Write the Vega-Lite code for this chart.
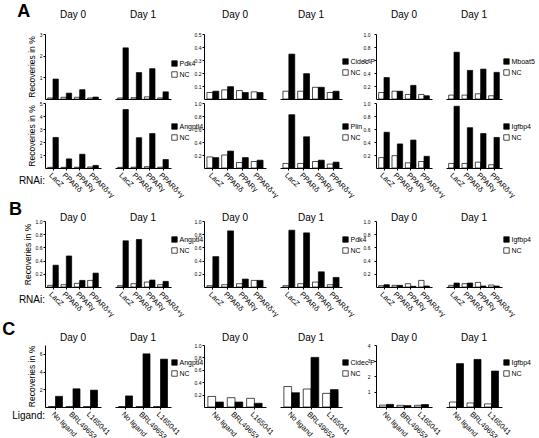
{
"$schema": "https://vega.github.io/schema/vega-lite/v6.json",
"padding": {"left": 2, "top": 2, "right": 0, "bottom": 0},
"config": {
 "font": "Liberation Sans",
 "view": {"stroke": null},
 "axis": {"grid": false, "domainColor": "black", "tickColor": "black", "labelColor": "black", "titleColor": "black", "tickSize": 2},
 "axisY": {"labelFontSize": 5, "labelPadding": 1, "titleFontSize": 8.5, "titleFontWeight": "normal", "titlePadding": 3},
 "axisX": {"labelAngle": 45, "labelFontSize": 7.5, "labelPadding": 1},
 "legend": {"orient": "none", "symbolType": "square", "symbolSize": 30, "symbolStrokeColor": "black", "symbolStrokeWidth": 0.8, "labelFontSize": 7, "labelColor": "black", "rowPadding": 2, "labelOffset": 1.5, "padding": 0},
 "header": {"labelFontSize": 10, "labelColor": "black", "titleColor": "black"},
 "bar": {"stroke": "black", "strokeWidth": 0.7},
 "scale": {"bandPaddingInner": 0.3, "bandPaddingOuter": 0.2},
 "title": {"fontSize": 18, "fontWeight": "bold", "anchor": "start", "frame": "bounds", "color": "black"}
},
"datasets": {
"a1c1": [
{"day":"Day 0","rnai":"LacZ","series":"NC","value":0.05},{"day":"Day 0","rnai":"LacZ","series":"Pdk4","value":0.92},
{"day":"Day 0","rnai":"PPARδ","series":"NC","value":0.08},{"day":"Day 0","rnai":"PPARδ","series":"Pdk4","value":0.27},
{"day":"Day 0","rnai":"PPARγ","series":"NC","value":0.08},{"day":"Day 0","rnai":"PPARγ","series":"Pdk4","value":0.43},
{"day":"Day 0","rnai":"PPARδ+γ","series":"NC","value":0.05},{"day":"Day 0","rnai":"PPARδ+γ","series":"Pdk4","value":0.09},
{"day":"Day 1","rnai":"LacZ","series":"NC","value":0.05},{"day":"Day 1","rnai":"LacZ","series":"Pdk4","value":2.36},
{"day":"Day 1","rnai":"PPARδ","series":"NC","value":0.06},{"day":"Day 1","rnai":"PPARδ","series":"Pdk4","value":1.22},
{"day":"Day 1","rnai":"PPARγ","series":"NC","value":0.10},{"day":"Day 1","rnai":"PPARγ","series":"Pdk4","value":1.40},
{"day":"Day 1","rnai":"PPARδ+γ","series":"NC","value":0.05},{"day":"Day 1","rnai":"PPARδ+γ","series":"Pdk4","value":0.33}],
"a1c2": [
{"day":"Day 0","rnai":"LacZ","series":"NC","value":0.05},{"day":"Day 0","rnai":"LacZ","series":"Cidec P","value":0.06},
{"day":"Day 0","rnai":"PPARδ","series":"NC","value":0.07},{"day":"Day 0","rnai":"PPARδ","series":"Cidec P","value":0.095},
{"day":"Day 0","rnai":"PPARγ","series":"NC","value":0.065},{"day":"Day 0","rnai":"PPARγ","series":"Cidec P","value":0.05},
{"day":"Day 0","rnai":"PPARδ+γ","series":"NC","value":0.055},{"day":"Day 0","rnai":"PPARδ+γ","series":"Cidec P","value":0.05},
{"day":"Day 1","rnai":"LacZ","series":"NC","value":0.06},{"day":"Day 1","rnai":"LacZ","series":"Cidec P","value":0.345},
{"day":"Day 1","rnai":"PPARδ","series":"NC","value":0.06},{"day":"Day 1","rnai":"PPARδ","series":"Cidec P","value":0.195},
{"day":"Day 1","rnai":"PPARγ","series":"NC","value":0.09},{"day":"Day 1","rnai":"PPARγ","series":"Cidec P","value":0.09},
{"day":"Day 1","rnai":"PPARδ+γ","series":"NC","value":0.05},{"day":"Day 1","rnai":"PPARδ+γ","series":"Cidec P","value":0.06}],
"a1c3": [
{"day":"Day 0","rnai":"LacZ","series":"NC","value":0.10},{"day":"Day 0","rnai":"LacZ","series":"Mboat5","value":0.33},
{"day":"Day 0","rnai":"PPARδ","series":"NC","value":0.12},{"day":"Day 0","rnai":"PPARδ","series":"Mboat5","value":0.12},
{"day":"Day 0","rnai":"PPARγ","series":"NC","value":0.07},{"day":"Day 0","rnai":"PPARγ","series":"Mboat5","value":0.21},
{"day":"Day 0","rnai":"PPARδ+γ","series":"NC","value":0.07},{"day":"Day 0","rnai":"PPARδ+γ","series":"Mboat5","value":0.05},
{"day":"Day 1","rnai":"LacZ","series":"NC","value":0.06},{"day":"Day 1","rnai":"LacZ","series":"Mboat5","value":0.72},
{"day":"Day 1","rnai":"PPARδ","series":"NC","value":0.06},{"day":"Day 1","rnai":"PPARδ","series":"Mboat5","value":0.44},
{"day":"Day 1","rnai":"PPARγ","series":"NC","value":0.08},{"day":"Day 1","rnai":"PPARγ","series":"Mboat5","value":0.46},
{"day":"Day 1","rnai":"PPARδ+γ","series":"NC","value":0.05},{"day":"Day 1","rnai":"PPARδ+γ","series":"Mboat5","value":0.41}],
"a2c1": [
{"day":"Day 0","rnai":"LacZ","series":"NC","value":0.05},{"day":"Day 0","rnai":"LacZ","series":"Angptl4","value":2.35},
{"day":"Day 0","rnai":"PPARδ","series":"NC","value":0.05},{"day":"Day 0","rnai":"PPARδ","series":"Angptl4","value":0.70},
{"day":"Day 0","rnai":"PPARγ","series":"NC","value":0.06},{"day":"Day 0","rnai":"PPARγ","series":"Angptl4","value":1.06},
{"day":"Day 0","rnai":"PPARδ+γ","series":"NC","value":0.08},{"day":"Day 0","rnai":"PPARδ+γ","series":"Angptl4","value":0.20},
{"day":"Day 1","rnai":"LacZ","series":"NC","value":0.05},{"day":"Day 1","rnai":"LacZ","series":"Angptl4","value":4.50},
{"day":"Day 1","rnai":"PPARδ","series":"NC","value":0.06},{"day":"Day 1","rnai":"PPARδ","series":"Angptl4","value":2.33},
{"day":"Day 1","rnai":"PPARγ","series":"NC","value":0.10},{"day":"Day 1","rnai":"PPARγ","series":"Angptl4","value":2.65},
{"day":"Day 1","rnai":"PPARδ+γ","series":"NC","value":0.06},{"day":"Day 1","rnai":"PPARδ+γ","series":"Angptl4","value":0.65}],
"a2c2": [
{"day":"Day 0","rnai":"LacZ","series":"NC","value":0.17},{"day":"Day 0","rnai":"LacZ","series":"Plin","value":0.16},
{"day":"Day 0","rnai":"PPARδ","series":"NC","value":0.20},{"day":"Day 0","rnai":"PPARδ","series":"Plin","value":0.26},
{"day":"Day 0","rnai":"PPARγ","series":"NC","value":0.085},{"day":"Day 0","rnai":"PPARγ","series":"Plin","value":0.16},
{"day":"Day 0","rnai":"PPARδ+γ","series":"NC","value":0.10},{"day":"Day 0","rnai":"PPARδ+γ","series":"Plin","value":0.12},
{"day":"Day 1","rnai":"LacZ","series":"NC","value":0.07},{"day":"Day 1","rnai":"LacZ","series":"Plin","value":0.82},
{"day":"Day 1","rnai":"PPARδ","series":"NC","value":0.07},{"day":"Day 1","rnai":"PPARδ","series":"Plin","value":0.48},
{"day":"Day 1","rnai":"PPARγ","series":"NC","value":0.10},{"day":"Day 1","rnai":"PPARγ","series":"Plin","value":0.12},
{"day":"Day 1","rnai":"PPARδ+γ","series":"NC","value":0.06},{"day":"Day 1","rnai":"PPARδ+γ","series":"Plin","value":0.09}],
"a2c3": [
{"day":"Day 0","rnai":"LacZ","series":"NC","value":0.16},{"day":"Day 0","rnai":"LacZ","series":"Igfbp4","value":0.55},
{"day":"Day 0","rnai":"PPARδ","series":"NC","value":0.19},{"day":"Day 0","rnai":"PPARδ","series":"Igfbp4","value":0.37},
{"day":"Day 0","rnai":"PPARγ","series":"NC","value":0.08},{"day":"Day 0","rnai":"PPARγ","series":"Igfbp4","value":0.43},
{"day":"Day 0","rnai":"PPARδ+γ","series":"NC","value":0.10},{"day":"Day 0","rnai":"PPARδ+γ","series":"Igfbp4","value":0.18},
{"day":"Day 1","rnai":"LacZ","series":"NC","value":0.07},{"day":"Day 1","rnai":"LacZ","series":"Igfbp4","value":0.95},
{"day":"Day 1","rnai":"PPARδ","series":"NC","value":0.07},{"day":"Day 1","rnai":"PPARδ","series":"Igfbp4","value":0.62},
{"day":"Day 1","rnai":"PPARγ","series":"NC","value":0.09},{"day":"Day 1","rnai":"PPARγ","series":"Igfbp4","value":0.53},
{"day":"Day 1","rnai":"PPARδ+γ","series":"NC","value":0.05},{"day":"Day 1","rnai":"PPARδ+γ","series":"Igfbp4","value":0.47}],
"bc1": [
{"day":"Day 0","rnai":"LacZ","series":"NC","value":0.025},{"day":"Day 0","rnai":"LacZ","series":"Angptl4","value":0.33},
{"day":"Day 0","rnai":"PPARδ","series":"NC","value":0.035},{"day":"Day 0","rnai":"PPARδ","series":"Angptl4","value":0.47},
{"day":"Day 0","rnai":"PPARγ","series":"NC","value":0.055},{"day":"Day 0","rnai":"PPARγ","series":"Angptl4","value":0.10},
{"day":"Day 0","rnai":"PPARδ+γ","series":"NC","value":0.10},{"day":"Day 0","rnai":"PPARδ+γ","series":"Angptl4","value":0.21},
{"day":"Day 1","rnai":"LacZ","series":"NC","value":0.02},{"day":"Day 1","rnai":"LacZ","series":"Angptl4","value":0.70},
{"day":"Day 1","rnai":"PPARδ","series":"NC","value":0.05},{"day":"Day 1","rnai":"PPARδ","series":"Angptl4","value":0.72},
{"day":"Day 1","rnai":"PPARγ","series":"NC","value":0.075},{"day":"Day 1","rnai":"PPARγ","series":"Angptl4","value":0.105},
{"day":"Day 1","rnai":"PPARδ+γ","series":"NC","value":0.035},{"day":"Day 1","rnai":"PPARδ+γ","series":"Angptl4","value":0.085}],
"bc2": [
{"day":"Day 0","rnai":"LacZ","series":"NC","value":0.02},{"day":"Day 0","rnai":"LacZ","series":"Pdk4","value":0.46},
{"day":"Day 0","rnai":"PPARδ","series":"NC","value":0.035},{"day":"Day 0","rnai":"PPARδ","series":"Pdk4","value":0.85},
{"day":"Day 0","rnai":"PPARγ","series":"NC","value":0.05},{"day":"Day 0","rnai":"PPARγ","series":"Pdk4","value":0.12},
{"day":"Day 0","rnai":"PPARδ+γ","series":"NC","value":0.10},{"day":"Day 0","rnai":"PPARδ+γ","series":"Pdk4","value":0.10},
{"day":"Day 1","rnai":"LacZ","series":"NC","value":0.02},{"day":"Day 1","rnai":"LacZ","series":"Pdk4","value":0.86},
{"day":"Day 1","rnai":"PPARδ","series":"NC","value":0.05},{"day":"Day 1","rnai":"PPARδ","series":"Pdk4","value":0.82},
{"day":"Day 1","rnai":"PPARγ","series":"NC","value":0.075},{"day":"Day 1","rnai":"PPARγ","series":"Pdk4","value":0.23},
{"day":"Day 1","rnai":"PPARδ+γ","series":"NC","value":0.035},{"day":"Day 1","rnai":"PPARδ+γ","series":"Pdk4","value":0.145}],
"bc3": [
{"day":"Day 0","rnai":"LacZ","series":"NC","value":0.02},{"day":"Day 0","rnai":"LacZ","series":"Igfbp4","value":0.035},
{"day":"Day 0","rnai":"PPARδ","series":"NC","value":0.025},{"day":"Day 0","rnai":"PPARδ","series":"Igfbp4","value":0.025},
{"day":"Day 0","rnai":"PPARγ","series":"NC","value":0.05},{"day":"Day 0","rnai":"PPARγ","series":"Igfbp4","value":0.01},
{"day":"Day 0","rnai":"PPARδ+γ","series":"NC","value":0.10},{"day":"Day 0","rnai":"PPARδ+γ","series":"Igfbp4","value":0.015},
{"day":"Day 1","rnai":"LacZ","series":"NC","value":0.025},{"day":"Day 1","rnai":"LacZ","series":"Igfbp4","value":0.06},
{"day":"Day 1","rnai":"PPARδ","series":"NC","value":0.05},{"day":"Day 1","rnai":"PPARδ","series":"Igfbp4","value":0.06},
{"day":"Day 1","rnai":"PPARγ","series":"NC","value":0.07},{"day":"Day 1","rnai":"PPARγ","series":"Igfbp4","value":0.015},
{"day":"Day 1","rnai":"PPARδ+γ","series":"NC","value":0.03},{"day":"Day 1","rnai":"PPARδ+γ","series":"Igfbp4","value":0.015}],
"cc1": [
{"day":"Day 0","ligand":"No ligand","series":"NC","value":0.05},{"day":"Day 0","ligand":"No ligand","series":"Angptl4","value":1.2},
{"day":"Day 0","ligand":"BRL49653","series":"NC","value":0.05},{"day":"Day 0","ligand":"BRL49653","series":"Angptl4","value":2.05},
{"day":"Day 0","ligand":"L165041","series":"NC","value":0.05},{"day":"Day 0","ligand":"L165041","series":"Angptl4","value":1.9},
{"day":"Day 1","ligand":"No ligand","series":"NC","value":0.05},{"day":"Day 1","ligand":"No ligand","series":"Angptl4","value":1.25},
{"day":"Day 1","ligand":"BRL49653","series":"NC","value":0.05},{"day":"Day 1","ligand":"BRL49653","series":"Angptl4","value":6.0},
{"day":"Day 1","ligand":"L165041","series":"NC","value":0.05},{"day":"Day 1","ligand":"L165041","series":"Angptl4","value":5.4}],
"cc2": [
{"day":"Day 0","ligand":"No ligand","series":"NC","value":0.17},{"day":"Day 0","ligand":"No ligand","series":"Cidec P","value":0.08},
{"day":"Day 0","ligand":"BRL49653","series":"NC","value":0.15},{"day":"Day 0","ligand":"BRL49653","series":"Cidec P","value":0.08},
{"day":"Day 0","ligand":"L165041","series":"NC","value":0.14},{"day":"Day 0","ligand":"L165041","series":"Cidec P","value":0.06},
{"day":"Day 1","ligand":"No ligand","series":"NC","value":0.33},{"day":"Day 1","ligand":"No ligand","series":"Cidec P","value":0.23},
{"day":"Day 1","ligand":"BRL49653","series":"NC","value":0.29},{"day":"Day 1","ligand":"BRL49653","series":"Cidec P","value":0.80},
{"day":"Day 1","ligand":"L165041","series":"NC","value":0.22},{"day":"Day 1","ligand":"L165041","series":"Cidec P","value":0.28}],
"cc3": [
{"day":"Day 0","ligand":"No ligand","series":"NC","value":0.12},{"day":"Day 0","ligand":"No ligand","series":"Igfbp4","value":0.17},
{"day":"Day 0","ligand":"BRL49653","series":"NC","value":0.11},{"day":"Day 0","ligand":"BRL49653","series":"Igfbp4","value":0.09},
{"day":"Day 0","ligand":"L165041","series":"NC","value":0.11},{"day":"Day 0","ligand":"L165041","series":"Igfbp4","value":0.16},
{"day":"Day 1","ligand":"No ligand","series":"NC","value":0.32},{"day":"Day 1","ligand":"No ligand","series":"Igfbp4","value":2.8},
{"day":"Day 1","ligand":"BRL49653","series":"NC","value":0.26},{"day":"Day 1","ligand":"BRL49653","series":"Igfbp4","value":3.07},
{"day":"Day 1","ligand":"L165041","series":"NC","value":0.20},{"day":"Day 1","ligand":"L165041","series":"Igfbp4","value":2.32}]
},
"columns": 3,
"spacing": {"row": 1, "column": -17},
"resolve": {"scale": {"x": "independent", "xOffset": "independent", "y": "independent", "fill": "independent"}, "legend": {"fill": "independent"}},
"concat": [
{"data": {"name": "a1c1"}, "spacing": 14, "bounds": "flush",
 "title": {"text": "A", "offset": -11, "dx": -10},
 "facet": {"column": {"field": "day", "type": "nominal", "title": null, "header": {"labelPadding": 14.5}}},
 "spec": {"width": 56, "height": 65, "mark": "bar",
  "encoding": {
   "x": {"field": "rnai", "type": "nominal", "sort": ["LacZ","PPARδ","PPARγ","PPARδ+γ"], "title": null, "axis": {"labels": false, "ticks": false}},
   "xOffset": {"field": "series", "type": "nominal", "sort": ["NC","Pdk4"]},
   "y": {"field": "value", "type": "quantitative", "scale": {"domain": [0,3]}, "axis": {"title": "Recoveries in %", "values": [1,2,3], "format": "d"}},
   "fill": {"field": "series", "type": "nominal", "scale": {"domain": ["Pdk4","NC"], "range": ["black","white"]}, "legend": {"title": null, "legendX": 126, "legendY": 26}}
  }}},
{"data": {"name": "a1c2"}, "spacing": 14, "bounds": "flush",
 "facet": {"column": {"field": "day", "type": "nominal", "title": null, "header": {"labelPadding": 14.5}}},
 "spec": {"width": 62, "height": 65, "mark": "bar",
  "encoding": {
   "x": {"field": "rnai", "type": "nominal", "sort": ["LacZ","PPARδ","PPARγ","PPARδ+γ"], "title": null, "axis": {"labels": false, "ticks": false}},
   "xOffset": {"field": "series", "type": "nominal", "sort": ["NC","Cidec P"]},
   "y": {"field": "value", "type": "quantitative", "scale": {"domain": [0,0.5]}, "axis": {"title": null, "values": [0.1,0.2,0.3,0.4,0.5], "format": ".1f"}},
   "fill": {"field": "series", "type": "nominal", "scale": {"domain": ["Cidec P","NC"], "range": ["black","white"]}, "legend": {"title": null, "legendX": 138, "legendY": 24}}
  }}},
{"data": {"name": "a1c3"}, "spacing": 14, "bounds": "flush",
 "facet": {"column": {"field": "day", "type": "nominal", "title": null, "header": {"labelPadding": 14.5}}},
 "spec": {"width": 56, "height": 65, "mark": "bar",
  "encoding": {
   "x": {"field": "rnai", "type": "nominal", "sort": ["LacZ","PPARδ","PPARγ","PPARδ+γ"], "title": null, "axis": {"labels": false, "ticks": false}},
   "xOffset": {"field": "series", "type": "nominal", "sort": ["NC","Mboat5"]},
   "y": {"field": "value", "type": "quantitative", "scale": {"domain": [0,1]}, "axis": {"title": null, "labelPadding": 4, "values": [0.2,0.4,0.6,0.8,1.0], "format": ".1f"}},
   "fill": {"field": "series", "type": "nominal", "scale": {"domain": ["Mboat5","NC"], "range": ["black","white"]}, "legend": {"title": null, "legendX": 127, "legendY": 24}}
  }}},
{"data": {"name": "a2c1"}, "spacing": 14, "bounds": "flush",
 "facet": {"column": {"field": "day", "type": "nominal", "title": "RNAi:", "header": {"labels": false, "titleOrient": "bottom", "titleAnchor": "start", "titleAlign": "right", "titleBaseline": "top", "titleFontSize": 10, "titleFontWeight": "normal", "titlePadding": -34}}},
 "spec": {"width": 56, "height": 65, "mark": "bar",
  "encoding": {
   "x": {"field": "rnai", "type": "nominal", "sort": ["LacZ","PPARδ","PPARγ","PPARδ+γ"], "title": null},
   "xOffset": {"field": "series", "type": "nominal", "sort": ["NC","Angptl4"]},
   "y": {"field": "value", "type": "quantitative", "scale": {"domain": [0,5]}, "axis": {"title": "Recoveries in %", "values": [1,2,3,4,5], "format": "d"}},
   "fill": {"field": "series", "type": "nominal", "scale": {"domain": ["Angptl4","NC"], "range": ["black","white"]}, "legend": {"title": null, "legendX": 126, "legendY": 20}}
  }}},
{"data": {"name": "a2c2"}, "spacing": 14, "bounds": "flush",
 "facet": {"column": {"field": "day", "type": "nominal", "title": null, "header": {"labels": false}}},
 "spec": {"width": 62, "height": 65, "mark": "bar",
  "encoding": {
   "x": {"field": "rnai", "type": "nominal", "sort": ["LacZ","PPARδ","PPARγ","PPARδ+γ"], "title": null},
   "xOffset": {"field": "series", "type": "nominal", "sort": ["NC","Plin"]},
   "y": {"field": "value", "type": "quantitative", "scale": {"domain": [0,1]}, "axis": {"title": null, "values": [0.2,0.4,0.6,0.8,1.0], "format": ".1f"}},
   "fill": {"field": "series", "type": "nominal", "scale": {"domain": ["Plin","NC"], "range": ["black","white"]}, "legend": {"title": null, "legendX": 138, "legendY": 20}}
  }}},
{"data": {"name": "a2c3"}, "spacing": 14, "bounds": "flush",
 "facet": {"column": {"field": "day", "type": "nominal", "title": null, "header": {"labels": false}}},
 "spec": {"width": 56, "height": 65, "mark": "bar",
  "encoding": {
   "x": {"field": "rnai", "type": "nominal", "sort": ["LacZ","PPARδ","PPARγ","PPARδ+γ"], "title": null},
   "xOffset": {"field": "series", "type": "nominal", "sort": ["NC","Igfbp4"]},
   "y": {"field": "value", "type": "quantitative", "scale": {"domain": [0,1]}, "axis": {"title": null, "labelPadding": 4, "values": [0.2,0.4,0.6,0.8,1.0], "format": ".1f"}},
   "fill": {"field": "series", "type": "nominal", "scale": {"domain": ["Igfbp4","NC"], "range": ["black","white"]}, "legend": {"title": null, "legendX": 127, "legendY": 20}}
  }}},
{"data": {"name": "bc1"}, "spacing": 14, "bounds": "flush",
 "title": {"text": "B", "offset": -6, "dx": -10},
 "facet": {"column": {"field": "day", "type": "nominal", "title": "RNAi:", "header": {"labelPadding": -2, "titleOrient": "bottom", "titleAnchor": "start", "titleAlign": "right", "titleBaseline": "top", "titleFontSize": 10, "titleFontWeight": "normal", "titlePadding": -34}}},
 "spec": {"width": 56, "height": 66, "mark": "bar",
  "encoding": {
   "x": {"field": "rnai", "type": "nominal", "sort": ["LacZ","PPARδ","PPARγ","PPARδ+γ"], "title": null},
   "xOffset": {"field": "series", "type": "nominal", "sort": ["NC","Angptl4"]},
   "y": {"field": "value", "type": "quantitative", "scale": {"domain": [0,1]}, "axis": {"title": "Recoveries in %", "values": [0.2,0.4,0.6,0.8,1.0], "format": ".1f"}},
   "fill": {"field": "series", "type": "nominal", "scale": {"domain": ["Angptl4","NC"], "range": ["black","white"]}, "legend": {"title": null, "legendX": 126, "legendY": 15}}
  }}},
{"data": {"name": "bc2"}, "spacing": 14, "bounds": "flush",
 "facet": {"column": {"field": "day", "type": "nominal", "title": null, "header": {"labelPadding": -2}}},
 "spec": {"width": 62, "height": 66, "mark": "bar",
  "encoding": {
   "x": {"field": "rnai", "type": "nominal", "sort": ["LacZ","PPARδ","PPARγ","PPARδ+γ"], "title": null},
   "xOffset": {"field": "series", "type": "nominal", "sort": ["NC","Pdk4"]},
   "y": {"field": "value", "type": "quantitative", "scale": {"domain": [0,1]}, "axis": {"title": null, "values": [0.2,0.4,0.6,0.8,1.0], "format": ".1f"}},
   "fill": {"field": "series", "type": "nominal", "scale": {"domain": ["Pdk4","NC"], "range": ["black","white"]}, "legend": {"title": null, "legendX": 138, "legendY": 15}}
  }}},
{"data": {"name": "bc3"}, "spacing": 14, "bounds": "flush",
 "facet": {"column": {"field": "day", "type": "nominal", "title": null, "header": {"labelPadding": -2}}},
 "spec": {"width": 56, "height": 66, "mark": "bar",
  "encoding": {
   "x": {"field": "rnai", "type": "nominal", "sort": ["LacZ","PPARδ","PPARγ","PPARδ+γ"], "title": null},
   "xOffset": {"field": "series", "type": "nominal", "sort": ["NC","Igfbp4"]},
   "y": {"field": "value", "type": "quantitative", "scale": {"domain": [0,1]}, "axis": {"title": null, "labelPadding": 4, "values": [0.2,0.4,0.6,0.8,1.0], "format": ".1f"}},
   "fill": {"field": "series", "type": "nominal", "scale": {"domain": ["Igfbp4","NC"], "range": ["black","white"]}, "legend": {"title": null, "legendX": 127, "legendY": 15}}
  }}},
{"data": {"name": "cc1"}, "spacing": 14, "bounds": "flush",
 "title": {"text": "C", "offset": -6, "dx": -10},
 "facet": {"column": {"field": "day", "type": "nominal", "title": "Ligand:", "header": {"labelPadding": 2.5, "titleOrient": "bottom", "titleAnchor": "start", "titleAlign": "right", "titleBaseline": "top", "titleFontSize": 10, "titleFontWeight": "normal", "titlePadding": -40}}},
 "spec": {"width": 56, "height": 62, "mark": "bar",
  "encoding": {
   "x": {"field": "ligand", "type": "nominal", "sort": ["No ligand","BRL49653","L165041"], "title": null},
   "xOffset": {"field": "series", "type": "nominal", "sort": ["NC","Angptl4"]},
   "y": {"field": "value", "type": "quantitative", "scale": {"domain": [0,7]}, "axis": {"title": "Recoveries in %", "values": [2,4,6], "format": "d"}},
   "fill": {"field": "series", "type": "nominal", "scale": {"domain": ["Angptl4","NC"], "range": ["black","white"]}, "legend": {"title": null, "legendX": 126, "legendY": 14}}
  }}},
{"data": {"name": "cc2"}, "spacing": 14, "bounds": "flush",
 "facet": {"column": {"field": "day", "type": "nominal", "title": null, "header": {"labelPadding": 2.5}}},
 "spec": {"width": 62, "height": 62, "mark": "bar",
  "encoding": {
   "x": {"field": "ligand", "type": "nominal", "sort": ["No ligand","BRL49653","L165041"], "title": null},
   "xOffset": {"field": "series", "type": "nominal", "sort": ["NC","Cidec P"]},
   "y": {"field": "value", "type": "quantitative", "scale": {"domain": [0,1]}, "axis": {"title": null, "values": [0.2,0.4,0.6,0.8,1.0], "format": ".1f"}},
   "fill": {"field": "series", "type": "nominal", "scale": {"domain": ["Cidec P","NC"], "range": ["black","white"]}, "legend": {"title": null, "legendX": 138, "legendY": 14}}
  }}},
{"data": {"name": "cc3"}, "spacing": 14, "bounds": "flush",
 "facet": {"column": {"field": "day", "type": "nominal", "title": null, "header": {"labelPadding": 2.5}}},
 "spec": {"width": 56, "height": 62, "mark": "bar",
  "encoding": {
   "x": {"field": "ligand", "type": "nominal", "sort": ["No ligand","BRL49653","L165041"], "title": null},
   "xOffset": {"field": "series", "type": "nominal", "sort": ["NC","Igfbp4"]},
   "y": {"field": "value", "type": "quantitative", "scale": {"domain": [0,4]}, "axis": {"title": null, "labelPadding": 4, "values": [1,2,3,4], "format": "d"}},
   "fill": {"field": "series", "type": "nominal", "scale": {"domain": ["Igfbp4","NC"], "range": ["black","white"]}, "legend": {"title": null, "legendX": 127, "legendY": 14}}
  }}}
]
}
